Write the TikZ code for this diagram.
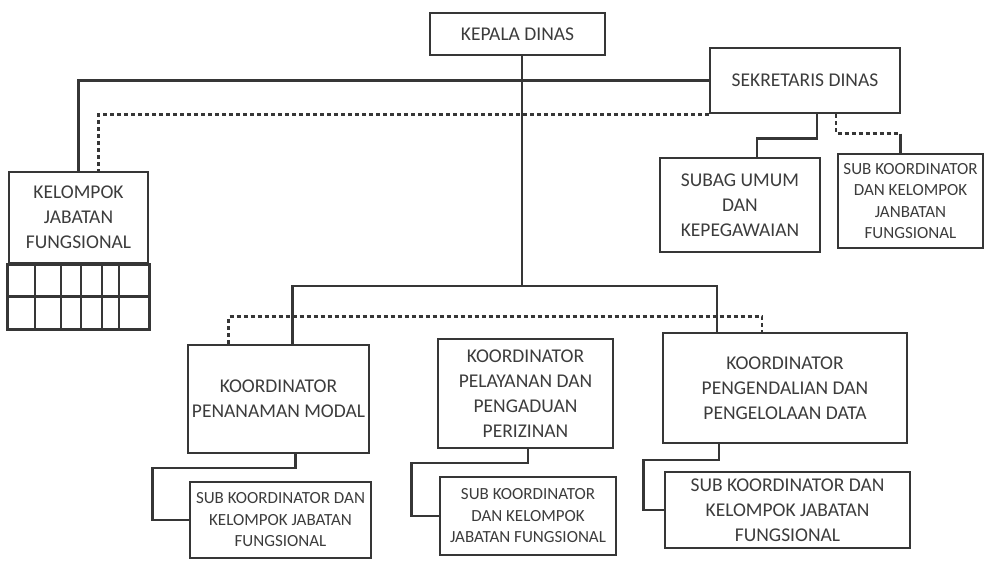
\documentclass[tikz,border=0pt]{standalone}
\usepackage{fontspec}
\setmainfont{Carlito}
\usetikzlibrary{calc,positioning}
\definecolor{ink}{HTML}{363636}
\definecolor{inktext}{HTML}{3C3C3C}
\tikzset{
  unit/.style={draw=ink,line width=2.6pt,inner sep=0pt,align=center,text=inktext,
    font=\fontsize{19.5}{25}\selectfont},
  subunit/.style={unit,font=\fontsize{17}{21.5}\selectfont},
  link/.style={draw=ink,line width=2.6pt},
  dotline/.style={draw=ink,line width=2.6pt,dash pattern=on 4pt off 3pt},
}

\begin{document}
\begin{tikzpicture}[x=1pt,y=-1pt]
      \useasboundingbox (0,0) rectangle (987,560);
      \node [unit,minimum width=175,minimum height=42] (kepala) at (517.5,34) {KEPALA DINAS};
      \node [unit,minimum width=190,minimum height=65] (sekretaris) at (805,80.5) {SEKRETARIS DINAS};
      \node [unit,minimum width=139,minimum height=91] (kjf) at (78.5,217.5) {KELOMPOK\\JABATAN\\FUNGSIONAL};
      \node [unit,minimum width=160,minimum height=94] (subag) at (740,205) {SUBAG UMUM\\DAN\\KEPEGAWAIAN};
      \node [subunit,minimum width=145,minimum height=94] (subsek) at (910.5,201) {SUB KOORDINATOR\\DAN KELOMPOK\\JANBATAN\\FUNGSIONAL};
      \node [unit,minimum width=181,minimum height=108] (kpm) at (278.5,399) {KOORDINATOR\\PENANAMAN MODAL};
      \node [unit,minimum width=175,minimum height=109] (kpp) at (525.5,393.5) {KOORDINATOR\\PELAYANAN DAN\\PENGADUAN\\PERIZINAN};
      \node [unit,minimum width=244,minimum height=110] (kpd) at (785,388) {KOORDINATOR\\PENGENDALIAN DAN\\PENGELOLAAN DATA};
      \node [subunit,minimum width=181,minimum height=76] (subpm) at (280.5,520) {SUB KOORDINATOR DAN\\KELOMPOK JABATAN\\FUNGSIONAL};
      \node [subunit,minimum width=176,minimum height=78] (subpp) at (528,516) {SUB KOORDINATOR\\DAN KELOMPOK\\JABATAN FUNGSIONAL};
      \node [unit,minimum width=245,minimum height=76] (subpd) at (787.5,510) {SUB KOORDINATOR DAN\\KELOMPOK JABATAN\\FUNGSIONAL};
      \draw[link] (kjf.south west) rectangle ($(kjf.south east)+(0,65)$);
      \draw[link] ($(kjf.south west)+(0,32)$) -- ($(kjf.south east)+(0,32)$);
      \foreach \gx in {35,61,81,102,119}
        \draw[link] (kjf.south west -| \gx,0) -- ++(0,65);
      \coordinate (hub) at (522,286);
      \draw[link] (kepala.south -| hub) -- (hub);
      \draw[link] (sekretaris.west) -| (kjf.north);
      \draw[dotline] (sekretaris.south west) -| ($(kjf.north)+(20,0)$);
      \draw[link] ($(sekretaris.south)+(12,0)$) -- ++(0,24) -| ($(subag.north)+(17,0)$);
      \coordinate (sj) at ($(subsek.north)+(-10,-19)$);
      \draw[dotline] ($(sekretaris.south)+(31,0)$) |- (sj);
      \draw[link] (sj) -- (sj |- subsek.north);
      \draw[link] ($(kpm.north)+(14,0)$) |- (hub) -| ($(kpd.north)+(-68,0)$);
      \draw[dotline] ($(kpm.north)+(-50,0)$) |- ($(kpd.north)+(-23,-15)$) -- ($(kpd.north)+(-23,0)$);
      \draw[link] ($(kpm.south)+(17,0)$) |- ($(subpm.west)+(-36,-52)$) |- (subpm.west);
      \draw[link] ($(kpp.south)+(2.5,0)$) |- ($(subpp.west)+(-27,-53)$) |- (subpp.west);
      \draw[link] ($(kpd.south)+(-66,0)$) |- ($(subpd.west)+(-20,-50)$) |- (subpd.west);
    \end{tikzpicture}
\end{document}
